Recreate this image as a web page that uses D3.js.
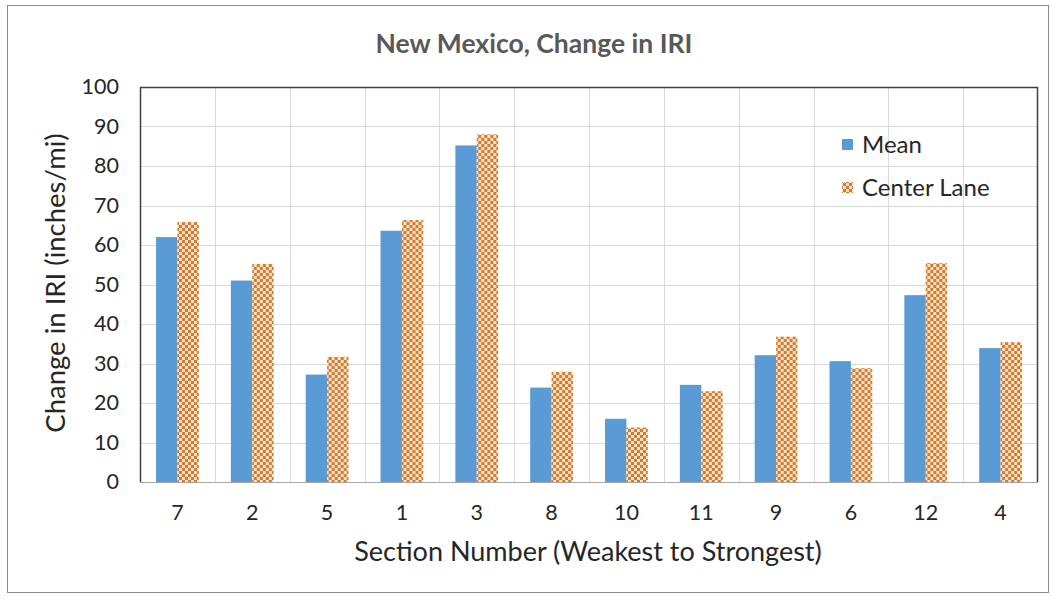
<!DOCTYPE html>
<html><head><meta charset="utf-8">
<script src="https://cdn.jsdelivr.net/npm/d3@7"></script>
<style>html,body{margin:0;padding:0;background:#fff;}svg{display:block;}</style>
</head><body>
<svg id="chart" width="1051" height="599"></svg>
<script>
const categories = ["7","2","5","1","3","8","10","11","9","6","12","4"];
const meanValues = [62, 51, 27.2, 63.6, 85.2, 23.9, 16.0, 24.6, 32.1, 30.6, 47.3, 33.9];
const centerValues = [65.8, 55.2, 31.7, 66.3, 88.0, 27.9, 13.8, 23.0, 36.8, 28.8, 55.4, 35.4];
const seriesNames = ["Mean", "Center Lane"];
const yTicks = [0,10,20,30,40,50,60,70,80,90,100];
const titleText = "New Mexico, Change in IRI";
const xTitle = "Section Number (Weakest to Strongest)";
const yTitle = "Change in IRI (inches/mi)";

const svg = d3.select("#chart");
const font = "Lato, 'Open Sans', sans-serif";
const plot = {x0:140, x1:1038, y0:87, y1:482};

// pattern
const defs = svg.append("defs");
const pat = defs.append("pattern").attr("id","checker").attr("patternUnits","userSpaceOnUse")
  .attr("width",6).attr("height",6);
pat.append("rect").attr("width",6).attr("height",6).attr("fill","#fbe3bd");
pat.append("rect").attr("x",0).attr("y",0).attr("width",3).attr("height",3).attr("fill","#d07a3c");
pat.append("rect").attr("x",3).attr("y",3).attr("width",3).attr("height",3).attr("fill","#d07a3c");

// outer frame
svg.append("rect").attr("x",7.5).attr("y",5.5).attr("width",1041).attr("height",587)
  .attr("fill","#fff").attr("stroke","#8c8c8c").attr("stroke-width",1);

const x = d3.scaleBand().domain(categories).range([plot.x0, plot.x1]).paddingInner(0).paddingOuter(0);
const xs = d3.scaleBand().domain(seriesNames).range([0, x.bandwidth()]).paddingInner(0).paddingOuter(0.75);
const y = d3.scaleLinear().domain([0,100]).range([plot.y1, plot.y0]);

// gridlines
svg.append("g").selectAll("line").data(yTicks).join("line")
  .attr("x1",plot.x0).attr("x2",plot.x1).attr("y1",d=>Math.round(y(d))+0.5).attr("y2",d=>Math.round(y(d))+0.5)
  .attr("stroke","#d9d9d9").attr("stroke-width",1);
svg.append("g").selectAll("line").data(categories.slice(1)).join("line")
  .attr("x1",d=>Math.round(x(d))+0.5).attr("x2",d=>Math.round(x(d))+0.5)
  .attr("y1",plot.y0).attr("y2",plot.y1)
  .attr("stroke","#d9d9d9").attr("stroke-width",1);

// bars
const data = categories.map((c,i)=>({c, vals:[meanValues[i], centerValues[i]]}));
const groups = svg.append("g").selectAll("g").data(data).join("g")
  .attr("transform",d=>`translate(${x(d.c)},0)`);
groups.selectAll("rect").data(d=>d.vals.map((v,j)=>({v, s:seriesNames[j]}))).join("rect")
  .attr("x",d=>xs(d.s)).attr("width",xs.bandwidth())
  .attr("y",d=>y(d.v)).attr("height",d=>y(0)-y(d.v))
  .attr("fill",d=>d.s==="Mean" ? "#5b9bd5" : "url(#checker)");

// plot border
svg.append("line").attr("x1",plot.x0).attr("x2",plot.x1).attr("y1",plot.y1+0.5).attr("y2",plot.y1+0.5)
  .attr("stroke","#a6a6a6").attr("stroke-width",1);
svg.append("path").attr("d",`M${plot.x0+0.5},${plot.y1}V${plot.y0+0.5}H${plot.x1-0.5}V${plot.y1}`)
  .attr("fill","none").attr("stroke","#404040").attr("stroke-width",1.5);

// axes
const yAxis = d3.axisLeft(y).tickValues(yTicks).tickSize(0).tickPadding(21);
const gy = svg.append("g").attr("transform",`translate(${plot.x0},0)`).call(yAxis);
gy.select(".domain").remove();
gy.selectAll("text").attr("font-family",font).attr("font-size",21.5).attr("fill","#262626");

const xAxis = d3.axisBottom(x).tickSize(0).tickPadding(23);
const gx = svg.append("g").attr("transform",`translate(0,${plot.y1})`).call(xAxis);
gx.select(".domain").remove();
gx.selectAll("text").attr("font-family",font).attr("font-size",21.5).attr("fill","#262626");

// titles
svg.append("text").attr("x",534).attr("y",53).attr("text-anchor","middle")
  .attr("font-family",font).attr("font-size",26.5).attr("font-weight","bold").attr("fill","#595959").text(titleText);
svg.append("text").attr("x",588).attr("y",561).attr("text-anchor","middle")
  .attr("font-family",font).attr("font-size",27).attr("fill","#262626").text(xTitle);
svg.append("text").attr("transform","translate(65,283) rotate(-90)").attr("text-anchor","middle")
  .attr("font-family",font).attr("font-size",27.5).attr("fill","#262626").text(yTitle);

// legend
const lg = svg.append("g");
const legendY = [145, 188];
seriesNames.forEach((s,i)=>{
  lg.append("rect").attr("x",842).attr("y",legendY[i]-6).attr("width",11).attr("height",11)
    .attr("fill", i===0 ? "#5b9bd5" : "url(#checker)");
  lg.append("text").attr("x",862).attr("y",legendY[i]).attr("dy","0.35em")
    .attr("font-family",font).attr("font-size",24).attr("fill","#262626").text(s);
});
</script>
</body></html>
